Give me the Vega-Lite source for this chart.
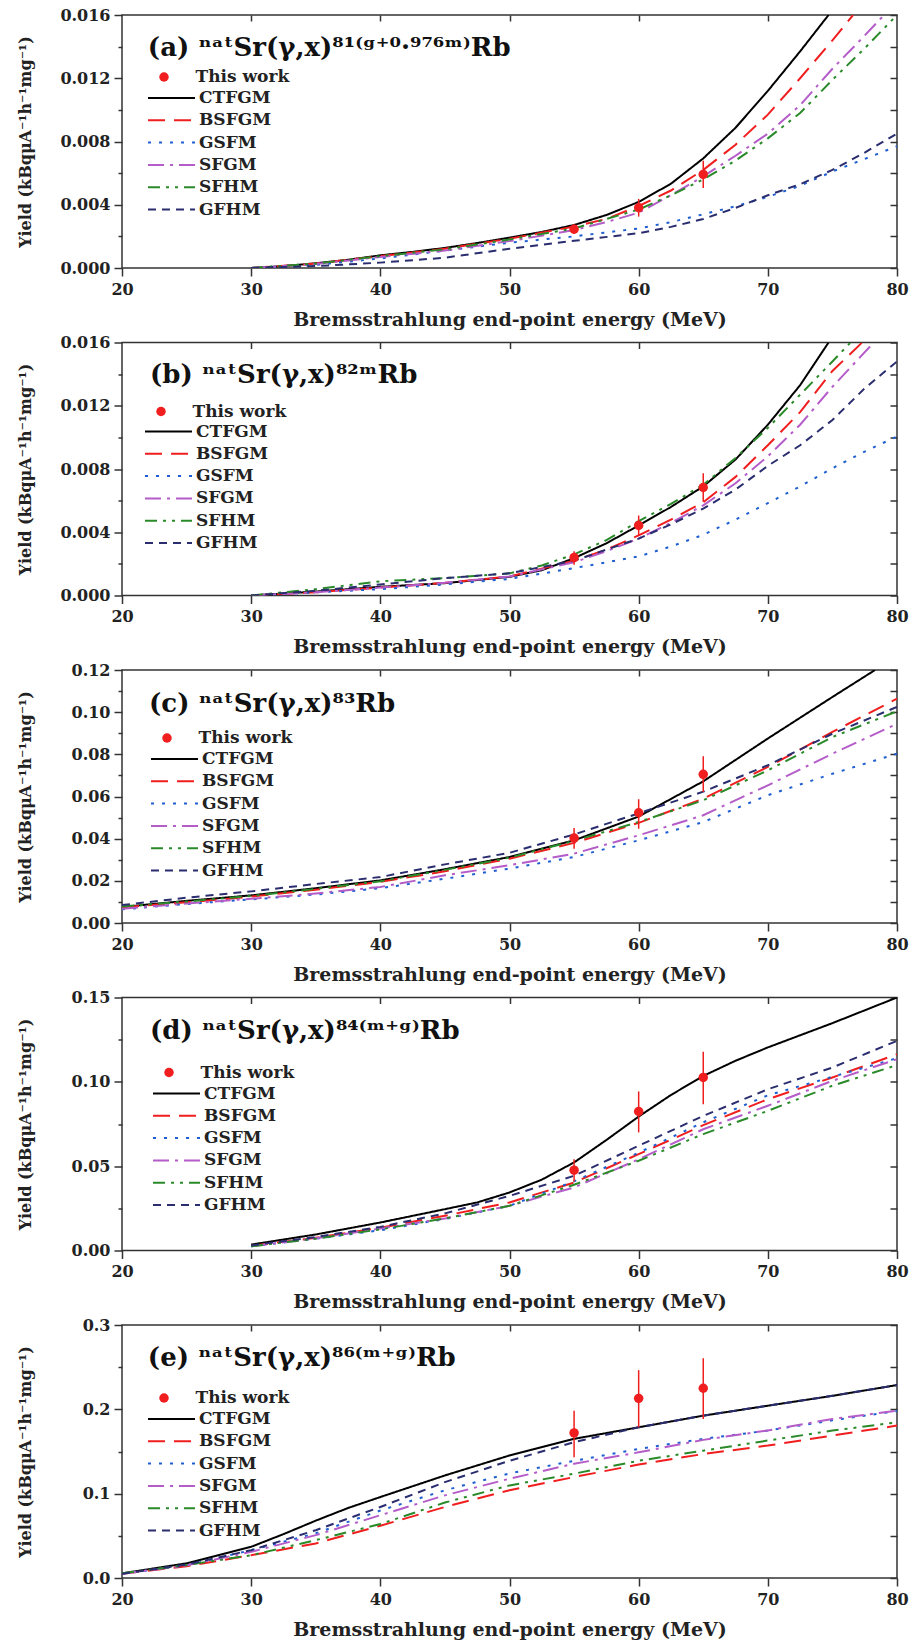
{
"$schema":"https://vega.github.io/schema/vega-lite/v6.json",
"background":"white",
"padding":{"left":16,"top":6,"right":3,"bottom":2},
"datasets":{
"curves":[
{"p":"a","m":"CTFGM","E":30,"Y":0},{"p":"a","m":"CTFGM","E":32.5,"Y":0.00012},{"p":"a","m":"CTFGM","E":35,"Y":0.0003},{"p":"a","m":"CTFGM","E":37.5,"Y":0.00052},{"p":"a","m":"CTFGM","E":40,"Y":0.0008},{"p":"a","m":"CTFGM","E":42.5,"Y":0.00102},{"p":"a","m":"CTFGM","E":45,"Y":0.00127},{"p":"a","m":"CTFGM","E":47.5,"Y":0.00158},{"p":"a","m":"CTFGM","E":50,"Y":0.00192},{"p":"a","m":"CTFGM","E":52.5,"Y":0.00228},{"p":"a","m":"CTFGM","E":55,"Y":0.00272},{"p":"a","m":"CTFGM","E":57.5,"Y":0.00335},{"p":"a","m":"CTFGM","E":60,"Y":0.00418},{"p":"a","m":"CTFGM","E":62.5,"Y":0.00533},{"p":"a","m":"CTFGM","E":65,"Y":0.00693},{"p":"a","m":"CTFGM","E":67.5,"Y":0.00887},{"p":"a","m":"CTFGM","E":70,"Y":0.0112},{"p":"a","m":"CTFGM","E":72.5,"Y":0.0137},{"p":"a","m":"CTFGM","E":74.7,"Y":0.016},
{"p":"a","m":"BSFGM","E":30,"Y":0},{"p":"a","m":"BSFGM","E":35,"Y":0.00028},{"p":"a","m":"BSFGM","E":40,"Y":0.00075},{"p":"a","m":"BSFGM","E":45,"Y":0.00122},{"p":"a","m":"BSFGM","E":50,"Y":0.00185},{"p":"a","m":"BSFGM","E":55,"Y":0.00262},{"p":"a","m":"BSFGM","E":57.5,"Y":0.0031},{"p":"a","m":"BSFGM","E":60,"Y":0.00392},{"p":"a","m":"BSFGM","E":62.5,"Y":0.0049},{"p":"a","m":"BSFGM","E":65,"Y":0.0062},{"p":"a","m":"BSFGM","E":67.5,"Y":0.0078},{"p":"a","m":"BSFGM","E":70,"Y":0.0097},{"p":"a","m":"BSFGM","E":72.5,"Y":0.012},{"p":"a","m":"BSFGM","E":75,"Y":0.0144},{"p":"a","m":"BSFGM","E":76.6,"Y":0.016},
{"p":"a","m":"GSFM","E":30,"Y":0},{"p":"a","m":"GSFM","E":35,"Y":0.0002},{"p":"a","m":"GSFM","E":40,"Y":0.0006},{"p":"a","m":"GSFM","E":45,"Y":0.0011},{"p":"a","m":"GSFM","E":50,"Y":0.0016},{"p":"a","m":"GSFM","E":55,"Y":0.002},{"p":"a","m":"GSFM","E":60,"Y":0.0025},{"p":"a","m":"GSFM","E":62.5,"Y":0.0029},{"p":"a","m":"GSFM","E":65,"Y":0.0034},{"p":"a","m":"GSFM","E":67.5,"Y":0.0039},{"p":"a","m":"GSFM","E":70,"Y":0.0045},{"p":"a","m":"GSFM","E":72.5,"Y":0.0052},{"p":"a","m":"GSFM","E":75,"Y":0.0061},{"p":"a","m":"GSFM","E":77.5,"Y":0.0069},{"p":"a","m":"GSFM","E":80,"Y":0.0077},
{"p":"a","m":"SFGM","E":30,"Y":0},{"p":"a","m":"SFGM","E":35,"Y":0.00025},{"p":"a","m":"SFGM","E":40,"Y":0.0007},{"p":"a","m":"SFGM","E":45,"Y":0.0011},{"p":"a","m":"SFGM","E":50,"Y":0.0017},{"p":"a","m":"SFGM","E":55,"Y":0.0024},{"p":"a","m":"SFGM","E":57.5,"Y":0.0029},{"p":"a","m":"SFGM","E":60,"Y":0.0035},{"p":"a","m":"SFGM","E":62.5,"Y":0.0046},{"p":"a","m":"SFGM","E":65,"Y":0.0058},{"p":"a","m":"SFGM","E":67.5,"Y":0.0071},{"p":"a","m":"SFGM","E":70,"Y":0.0085},{"p":"a","m":"SFGM","E":72.5,"Y":0.0103},{"p":"a","m":"SFGM","E":75,"Y":0.0126},{"p":"a","m":"SFGM","E":77.5,"Y":0.0147},{"p":"a","m":"SFGM","E":79,"Y":0.016},
{"p":"a","m":"SFHM","E":30,"Y":0},{"p":"a","m":"SFHM","E":35,"Y":0.00028},{"p":"a","m":"SFHM","E":40,"Y":0.00075},{"p":"a","m":"SFHM","E":45,"Y":0.00118},{"p":"a","m":"SFHM","E":50,"Y":0.0018},{"p":"a","m":"SFHM","E":55,"Y":0.0025},{"p":"a","m":"SFHM","E":57.5,"Y":0.0031},{"p":"a","m":"SFHM","E":60,"Y":0.0037},{"p":"a","m":"SFHM","E":62.5,"Y":0.0046},{"p":"a","m":"SFHM","E":65,"Y":0.0056},{"p":"a","m":"SFHM","E":67.5,"Y":0.0068},{"p":"a","m":"SFHM","E":70,"Y":0.0082},{"p":"a","m":"SFHM","E":72.5,"Y":0.0098},{"p":"a","m":"SFHM","E":75,"Y":0.0119},{"p":"a","m":"SFHM","E":77.5,"Y":0.0139},{"p":"a","m":"SFHM","E":80,"Y":0.016},
{"p":"a","m":"GFHM","E":30,"Y":0},{"p":"a","m":"GFHM","E":35,"Y":0.00012},{"p":"a","m":"GFHM","E":40,"Y":0.00034},{"p":"a","m":"GFHM","E":45,"Y":0.00065},{"p":"a","m":"GFHM","E":50,"Y":0.00122},{"p":"a","m":"GFHM","E":55,"Y":0.00172},{"p":"a","m":"GFHM","E":60,"Y":0.0022},{"p":"a","m":"GFHM","E":62.5,"Y":0.0026},{"p":"a","m":"GFHM","E":65,"Y":0.0031},{"p":"a","m":"GFHM","E":67.5,"Y":0.0038},{"p":"a","m":"GFHM","E":70,"Y":0.0046},{"p":"a","m":"GFHM","E":72.5,"Y":0.0053},{"p":"a","m":"GFHM","E":75,"Y":0.0062},{"p":"a","m":"GFHM","E":77.5,"Y":0.0073},{"p":"a","m":"GFHM","E":80,"Y":0.0085},

{"p":"b","m":"CTFGM","E":30,"Y":0},{"p":"b","m":"CTFGM","E":35,"Y":0.00025},{"p":"b","m":"CTFGM","E":40,"Y":0.00055},{"p":"b","m":"CTFGM","E":45,"Y":0.00078},{"p":"b","m":"CTFGM","E":50,"Y":0.00118},{"p":"b","m":"CTFGM","E":52.5,"Y":0.0016},{"p":"b","m":"CTFGM","E":55,"Y":0.00236},{"p":"b","m":"CTFGM","E":57.5,"Y":0.0033},{"p":"b","m":"CTFGM","E":60,"Y":0.00443},{"p":"b","m":"CTFGM","E":62.5,"Y":0.0056},{"p":"b","m":"CTFGM","E":65,"Y":0.0069},{"p":"b","m":"CTFGM","E":67.5,"Y":0.0086},{"p":"b","m":"CTFGM","E":70,"Y":0.0108},{"p":"b","m":"CTFGM","E":72.5,"Y":0.0133},{"p":"b","m":"CTFGM","E":74.7,"Y":0.016},
{"p":"b","m":"BSFGM","E":30,"Y":0},{"p":"b","m":"BSFGM","E":35,"Y":0.0002},{"p":"b","m":"BSFGM","E":40,"Y":0.0005},{"p":"b","m":"BSFGM","E":45,"Y":0.0008},{"p":"b","m":"BSFGM","E":50,"Y":0.0012},{"p":"b","m":"BSFGM","E":55,"Y":0.0022},{"p":"b","m":"BSFGM","E":57.5,"Y":0.0029},{"p":"b","m":"BSFGM","E":60,"Y":0.0038},{"p":"b","m":"BSFGM","E":62.5,"Y":0.0048},{"p":"b","m":"BSFGM","E":65,"Y":0.0059},{"p":"b","m":"BSFGM","E":67.5,"Y":0.0075},{"p":"b","m":"BSFGM","E":70,"Y":0.0095},{"p":"b","m":"BSFGM","E":72.5,"Y":0.0116},{"p":"b","m":"BSFGM","E":75,"Y":0.0142},{"p":"b","m":"BSFGM","E":77.3,"Y":0.016},
{"p":"b","m":"GSFM","E":30,"Y":0},{"p":"b","m":"GSFM","E":35,"Y":0.0002},{"p":"b","m":"GSFM","E":40,"Y":0.0004},{"p":"b","m":"GSFM","E":45,"Y":0.0007},{"p":"b","m":"GSFM","E":50,"Y":0.00105},{"p":"b","m":"GSFM","E":55,"Y":0.00173},{"p":"b","m":"GSFM","E":60,"Y":0.00247},{"p":"b","m":"GSFM","E":62.5,"Y":0.0031},{"p":"b","m":"GSFM","E":65,"Y":0.00384},{"p":"b","m":"GSFM","E":67.5,"Y":0.0048},{"p":"b","m":"GSFM","E":70,"Y":0.00584},{"p":"b","m":"GSFM","E":72.5,"Y":0.0069},{"p":"b","m":"GSFM","E":75,"Y":0.00805},{"p":"b","m":"GSFM","E":77.5,"Y":0.0091},{"p":"b","m":"GSFM","E":80,"Y":0.01006},
{"p":"b","m":"SFGM","E":30,"Y":0},{"p":"b","m":"SFGM","E":35,"Y":0.0002},{"p":"b","m":"SFGM","E":40,"Y":0.0005},{"p":"b","m":"SFGM","E":45,"Y":0.0008},{"p":"b","m":"SFGM","E":50,"Y":0.0012},{"p":"b","m":"SFGM","E":55,"Y":0.0021},{"p":"b","m":"SFGM","E":57.5,"Y":0.0028},{"p":"b","m":"SFGM","E":60,"Y":0.0036},{"p":"b","m":"SFGM","E":62.5,"Y":0.0046},{"p":"b","m":"SFGM","E":65,"Y":0.0057},{"p":"b","m":"SFGM","E":67.5,"Y":0.0071},{"p":"b","m":"SFGM","E":70,"Y":0.0088},{"p":"b","m":"SFGM","E":72.5,"Y":0.0108},{"p":"b","m":"SFGM","E":75,"Y":0.0132},{"p":"b","m":"SFGM","E":78.2,"Y":0.016},
{"p":"b","m":"SFHM","E":30,"Y":0},{"p":"b","m":"SFHM","E":35,"Y":0.0004},{"p":"b","m":"SFHM","E":40,"Y":0.0009},{"p":"b","m":"SFHM","E":45,"Y":0.0011},{"p":"b","m":"SFHM","E":50,"Y":0.0014},{"p":"b","m":"SFHM","E":52.5,"Y":0.0019},{"p":"b","m":"SFHM","E":55,"Y":0.0026},{"p":"b","m":"SFHM","E":57.5,"Y":0.0035},{"p":"b","m":"SFHM","E":60,"Y":0.0047},{"p":"b","m":"SFHM","E":62.5,"Y":0.0058},{"p":"b","m":"SFHM","E":65,"Y":0.007},{"p":"b","m":"SFHM","E":67.5,"Y":0.0087},{"p":"b","m":"SFHM","E":70,"Y":0.0106},{"p":"b","m":"SFHM","E":72.5,"Y":0.0127},{"p":"b","m":"SFHM","E":75,"Y":0.0148},{"p":"b","m":"SFHM","E":76.4,"Y":0.016},
{"p":"b","m":"GFHM","E":30,"Y":0},{"p":"b","m":"GFHM","E":35,"Y":0.0003},{"p":"b","m":"GFHM","E":40,"Y":0.0007},{"p":"b","m":"GFHM","E":45,"Y":0.0011},{"p":"b","m":"GFHM","E":50,"Y":0.0014},{"p":"b","m":"GFHM","E":55,"Y":0.0022},{"p":"b","m":"GFHM","E":57.5,"Y":0.0029},{"p":"b","m":"GFHM","E":60,"Y":0.0036},{"p":"b","m":"GFHM","E":62.5,"Y":0.0045},{"p":"b","m":"GFHM","E":65,"Y":0.0055},{"p":"b","m":"GFHM","E":67.5,"Y":0.0067},{"p":"b","m":"GFHM","E":70,"Y":0.0082},{"p":"b","m":"GFHM","E":72.5,"Y":0.0095},{"p":"b","m":"GFHM","E":75,"Y":0.0111},{"p":"b","m":"GFHM","E":77.5,"Y":0.0131},{"p":"b","m":"GFHM","E":80,"Y":0.0148},

{"p":"c","m":"CTFGM","E":20,"Y":0.0076},{"p":"c","m":"CTFGM","E":25,"Y":0.0105},{"p":"c","m":"CTFGM","E":30,"Y":0.0131},{"p":"c","m":"CTFGM","E":35,"Y":0.0165},{"p":"c","m":"CTFGM","E":40,"Y":0.0202},{"p":"c","m":"CTFGM","E":45,"Y":0.0255},{"p":"c","m":"CTFGM","E":50,"Y":0.0313},{"p":"c","m":"CTFGM","E":55,"Y":0.0392},{"p":"c","m":"CTFGM","E":60,"Y":0.0505},{"p":"c","m":"CTFGM","E":65,"Y":0.0672},{"p":"c","m":"CTFGM","E":70,"Y":0.0875},{"p":"c","m":"CTFGM","E":75,"Y":0.1072},{"p":"c","m":"CTFGM","E":78.3,"Y":0.12},
{"p":"c","m":"BSFGM","E":20,"Y":0.0075},{"p":"c","m":"BSFGM","E":25,"Y":0.0098},{"p":"c","m":"BSFGM","E":30,"Y":0.0125},{"p":"c","m":"BSFGM","E":35,"Y":0.0158},{"p":"c","m":"BSFGM","E":40,"Y":0.0195},{"p":"c","m":"BSFGM","E":45,"Y":0.0245},{"p":"c","m":"BSFGM","E":50,"Y":0.0305},{"p":"c","m":"BSFGM","E":55,"Y":0.038},{"p":"c","m":"BSFGM","E":60,"Y":0.0475},{"p":"c","m":"BSFGM","E":65,"Y":0.059},{"p":"c","m":"BSFGM","E":70,"Y":0.074},{"p":"c","m":"BSFGM","E":75,"Y":0.0906},{"p":"c","m":"BSFGM","E":80,"Y":0.1064},
{"p":"c","m":"GSFM","E":20,"Y":0.0065},{"p":"c","m":"GSFM","E":25,"Y":0.009},{"p":"c","m":"GSFM","E":30,"Y":0.0112},{"p":"c","m":"GSFM","E":35,"Y":0.0135},{"p":"c","m":"GSFM","E":40,"Y":0.0165},{"p":"c","m":"GSFM","E":45,"Y":0.021},{"p":"c","m":"GSFM","E":50,"Y":0.0258},{"p":"c","m":"GSFM","E":55,"Y":0.0313},{"p":"c","m":"GSFM","E":60,"Y":0.0392},{"p":"c","m":"GSFM","E":65,"Y":0.0479},{"p":"c","m":"GSFM","E":70,"Y":0.0606},{"p":"c","m":"GSFM","E":75,"Y":0.0708},{"p":"c","m":"GSFM","E":80,"Y":0.0803},
{"p":"c","m":"SFGM","E":20,"Y":0.0068},{"p":"c","m":"SFGM","E":25,"Y":0.0092},{"p":"c","m":"SFGM","E":30,"Y":0.0115},{"p":"c","m":"SFGM","E":35,"Y":0.014},{"p":"c","m":"SFGM","E":40,"Y":0.0171},{"p":"c","m":"SFGM","E":45,"Y":0.0226},{"p":"c","m":"SFGM","E":50,"Y":0.0274},{"p":"c","m":"SFGM","E":55,"Y":0.0329},{"p":"c","m":"SFGM","E":60,"Y":0.0416},{"p":"c","m":"SFGM","E":65,"Y":0.0511},{"p":"c","m":"SFGM","E":70,"Y":0.0653},{"p":"c","m":"SFGM","E":75,"Y":0.0803},{"p":"c","m":"SFGM","E":80,"Y":0.0945},
{"p":"c","m":"SFHM","E":20,"Y":0.0078},{"p":"c","m":"SFHM","E":25,"Y":0.0102},{"p":"c","m":"SFHM","E":30,"Y":0.0128},{"p":"c","m":"SFHM","E":35,"Y":0.0162},{"p":"c","m":"SFHM","E":40,"Y":0.0198},{"p":"c","m":"SFHM","E":45,"Y":0.0252},{"p":"c","m":"SFHM","E":50,"Y":0.031},{"p":"c","m":"SFHM","E":55,"Y":0.039},{"p":"c","m":"SFHM","E":60,"Y":0.0479},{"p":"c","m":"SFHM","E":65,"Y":0.0582},{"p":"c","m":"SFHM","E":70,"Y":0.0724},{"p":"c","m":"SFHM","E":75,"Y":0.0882},{"p":"c","m":"SFHM","E":80,"Y":0.1004},
{"p":"c","m":"GFHM","E":20,"Y":0.0085},{"p":"c","m":"GFHM","E":25,"Y":0.012},{"p":"c","m":"GFHM","E":30,"Y":0.015},{"p":"c","m":"GFHM","E":35,"Y":0.0185},{"p":"c","m":"GFHM","E":40,"Y":0.0218},{"p":"c","m":"GFHM","E":45,"Y":0.0278},{"p":"c","m":"GFHM","E":50,"Y":0.0333},{"p":"c","m":"GFHM","E":55,"Y":0.042},{"p":"c","m":"GFHM","E":60,"Y":0.052},{"p":"c","m":"GFHM","E":65,"Y":0.0623},{"p":"c","m":"GFHM","E":70,"Y":0.0748},{"p":"c","m":"GFHM","E":75,"Y":0.0898},{"p":"c","m":"GFHM","E":80,"Y":0.1025},

{"p":"d","m":"CTFGM","E":30,"Y":0.0035},{"p":"d","m":"CTFGM","E":35,"Y":0.0095},{"p":"d","m":"CTFGM","E":40,"Y":0.0166},{"p":"d","m":"CTFGM","E":45,"Y":0.0245},{"p":"d","m":"CTFGM","E":47.5,"Y":0.0285},{"p":"d","m":"CTFGM","E":50,"Y":0.0344},{"p":"d","m":"CTFGM","E":52.5,"Y":0.042},{"p":"d","m":"CTFGM","E":55,"Y":0.0522},{"p":"d","m":"CTFGM","E":57.5,"Y":0.0655},{"p":"d","m":"CTFGM","E":60,"Y":0.0794},{"p":"d","m":"CTFGM","E":62.5,"Y":0.0922},{"p":"d","m":"CTFGM","E":65,"Y":0.1035},{"p":"d","m":"CTFGM","E":67.5,"Y":0.1125},{"p":"d","m":"CTFGM","E":70,"Y":0.1204},{"p":"d","m":"CTFGM","E":75,"Y":0.1348},{"p":"d","m":"CTFGM","E":80,"Y":0.15},
{"p":"d","m":"BSFGM","E":30,"Y":0.0028},{"p":"d","m":"BSFGM","E":35,"Y":0.0075},{"p":"d","m":"BSFGM","E":40,"Y":0.0135},{"p":"d","m":"BSFGM","E":45,"Y":0.0206},{"p":"d","m":"BSFGM","E":50,"Y":0.0285},{"p":"d","m":"BSFGM","E":55,"Y":0.0403},{"p":"d","m":"BSFGM","E":60,"Y":0.0571},{"p":"d","m":"BSFGM","E":65,"Y":0.0743},{"p":"d","m":"BSFGM","E":70,"Y":0.0897},{"p":"d","m":"BSFGM","E":75,"Y":0.1026},{"p":"d","m":"BSFGM","E":80,"Y":0.1164},
{"p":"d","m":"GSFM","E":30,"Y":0.0025},{"p":"d","m":"GSFM","E":35,"Y":0.007},{"p":"d","m":"GSFM","E":40,"Y":0.012},{"p":"d","m":"GSFM","E":45,"Y":0.0187},{"p":"d","m":"GSFM","E":50,"Y":0.0265},{"p":"d","m":"GSFM","E":55,"Y":0.041},{"p":"d","m":"GSFM","E":60,"Y":0.058},{"p":"d","m":"GSFM","E":65,"Y":0.076},{"p":"d","m":"GSFM","E":70,"Y":0.092},{"p":"d","m":"GSFM","E":75,"Y":0.103},{"p":"d","m":"GSFM","E":80,"Y":0.114},
{"p":"d","m":"SFGM","E":30,"Y":0.0025},{"p":"d","m":"SFGM","E":35,"Y":0.0072},{"p":"d","m":"SFGM","E":40,"Y":0.013},{"p":"d","m":"SFGM","E":45,"Y":0.019},{"p":"d","m":"SFGM","E":50,"Y":0.0265},{"p":"d","m":"SFGM","E":55,"Y":0.0374},{"p":"d","m":"SFGM","E":60,"Y":0.0541},{"p":"d","m":"SFGM","E":65,"Y":0.0719},{"p":"d","m":"SFGM","E":70,"Y":0.0858},{"p":"d","m":"SFGM","E":75,"Y":0.1006},{"p":"d","m":"SFGM","E":80,"Y":0.1134},
{"p":"d","m":"SFHM","E":30,"Y":0.0025},{"p":"d","m":"SFHM","E":35,"Y":0.007},{"p":"d","m":"SFHM","E":40,"Y":0.0125},{"p":"d","m":"SFHM","E":45,"Y":0.019},{"p":"d","m":"SFHM","E":50,"Y":0.0265},{"p":"d","m":"SFHM","E":55,"Y":0.039},{"p":"d","m":"SFHM","E":60,"Y":0.0532},{"p":"d","m":"SFHM","E":65,"Y":0.069},{"p":"d","m":"SFHM","E":70,"Y":0.0828},{"p":"d","m":"SFHM","E":75,"Y":0.0977},{"p":"d","m":"SFHM","E":80,"Y":0.1099},
{"p":"d","m":"GFHM","E":30,"Y":0.003},{"p":"d","m":"GFHM","E":35,"Y":0.008},{"p":"d","m":"GFHM","E":40,"Y":0.014},{"p":"d","m":"GFHM","E":45,"Y":0.022},{"p":"d","m":"GFHM","E":50,"Y":0.0324},{"p":"d","m":"GFHM","E":55,"Y":0.0443},{"p":"d","m":"GFHM","E":60,"Y":0.0621},{"p":"d","m":"GFHM","E":65,"Y":0.0798},{"p":"d","m":"GFHM","E":70,"Y":0.0956},{"p":"d","m":"GFHM","E":75,"Y":0.1085},{"p":"d","m":"GFHM","E":80,"Y":0.1243},

{"p":"e","m":"CTFGM","E":20,"Y":0.0055},{"p":"e","m":"CTFGM","E":25,"Y":0.0174},{"p":"e","m":"CTFGM","E":30,"Y":0.037},{"p":"e","m":"CTFGM","E":32.5,"Y":0.052},{"p":"e","m":"CTFGM","E":35,"Y":0.068},{"p":"e","m":"CTFGM","E":37.5,"Y":0.083},{"p":"e","m":"CTFGM","E":40,"Y":0.096},{"p":"e","m":"CTFGM","E":45,"Y":0.1216},{"p":"e","m":"CTFGM","E":50,"Y":0.1453},{"p":"e","m":"CTFGM","E":55,"Y":0.165},{"p":"e","m":"CTFGM","E":60,"Y":0.1787},{"p":"e","m":"CTFGM","E":65,"Y":0.1925},{"p":"e","m":"CTFGM","E":70,"Y":0.2043},{"p":"e","m":"CTFGM","E":75,"Y":0.216},{"p":"e","m":"CTFGM","E":80,"Y":0.2288},
{"p":"e","m":"BSFGM","E":20,"Y":0.005},{"p":"e","m":"BSFGM","E":25,"Y":0.014},{"p":"e","m":"BSFGM","E":30,"Y":0.027},{"p":"e","m":"BSFGM","E":35,"Y":0.041},{"p":"e","m":"BSFGM","E":40,"Y":0.062},{"p":"e","m":"BSFGM","E":45,"Y":0.0842},{"p":"e","m":"BSFGM","E":50,"Y":0.104},{"p":"e","m":"BSFGM","E":55,"Y":0.1197},{"p":"e","m":"BSFGM","E":60,"Y":0.1346},{"p":"e","m":"BSFGM","E":65,"Y":0.147},{"p":"e","m":"BSFGM","E":70,"Y":0.157},{"p":"e","m":"BSFGM","E":75,"Y":0.1689},{"p":"e","m":"BSFGM","E":80,"Y":0.1807},
{"p":"e","m":"GSFM","E":20,"Y":0.005},{"p":"e","m":"GSFM","E":25,"Y":0.015},{"p":"e","m":"GSFM","E":30,"Y":0.033},{"p":"e","m":"GSFM","E":35,"Y":0.053},{"p":"e","m":"GSFM","E":40,"Y":0.08},{"p":"e","m":"GSFM","E":45,"Y":0.104},{"p":"e","m":"GSFM","E":50,"Y":0.124},{"p":"e","m":"GSFM","E":55,"Y":0.139},{"p":"e","m":"GSFM","E":60,"Y":0.153},{"p":"e","m":"GSFM","E":65,"Y":0.165},{"p":"e","m":"GSFM","E":70,"Y":0.1748},{"p":"e","m":"GSFM","E":75,"Y":0.187},{"p":"e","m":"GSFM","E":80,"Y":0.198},
{"p":"e","m":"SFGM","E":20,"Y":0.005},{"p":"e","m":"SFGM","E":25,"Y":0.015},{"p":"e","m":"SFGM","E":30,"Y":0.031},{"p":"e","m":"SFGM","E":35,"Y":0.0508},{"p":"e","m":"SFGM","E":40,"Y":0.0744},{"p":"e","m":"SFGM","E":45,"Y":0.098},{"p":"e","m":"SFGM","E":50,"Y":0.1177},{"p":"e","m":"SFGM","E":55,"Y":0.1355},{"p":"e","m":"SFGM","E":60,"Y":0.149},{"p":"e","m":"SFGM","E":65,"Y":0.1638},{"p":"e","m":"SFGM","E":70,"Y":0.175},{"p":"e","m":"SFGM","E":75,"Y":0.1886},{"p":"e","m":"SFGM","E":80,"Y":0.1984},
{"p":"e","m":"SFHM","E":20,"Y":0.0055},{"p":"e","m":"SFHM","E":25,"Y":0.0155},{"p":"e","m":"SFHM","E":30,"Y":0.027},{"p":"e","m":"SFHM","E":35,"Y":0.0449},{"p":"e","m":"SFHM","E":40,"Y":0.064},{"p":"e","m":"SFHM","E":45,"Y":0.0895},{"p":"e","m":"SFHM","E":50,"Y":0.1098},{"p":"e","m":"SFHM","E":55,"Y":0.1237},{"p":"e","m":"SFHM","E":60,"Y":0.139},{"p":"e","m":"SFHM","E":65,"Y":0.151},{"p":"e","m":"SFHM","E":70,"Y":0.163},{"p":"e","m":"SFHM","E":75,"Y":0.1748},{"p":"e","m":"SFHM","E":80,"Y":0.1846},
{"p":"e","m":"GFHM","E":20,"Y":0.005},{"p":"e","m":"GFHM","E":25,"Y":0.016},{"p":"e","m":"GFHM","E":30,"Y":0.033},{"p":"e","m":"GFHM","E":35,"Y":0.0567},{"p":"e","m":"GFHM","E":40,"Y":0.0842},{"p":"e","m":"GFHM","E":45,"Y":0.1137},{"p":"e","m":"GFHM","E":50,"Y":0.139},{"p":"e","m":"GFHM","E":55,"Y":0.161},{"p":"e","m":"GFHM","E":60,"Y":0.1787},{"p":"e","m":"GFHM","E":65,"Y":0.1925},{"p":"e","m":"GFHM","E":70,"Y":0.2043},{"p":"e","m":"GFHM","E":75,"Y":0.216},{"p":"e","m":"GFHM","E":80,"Y":0.2288}
],
"exp":[
{"p":"a","src":"This work","E":55,"Y":0.00245,"lo":0.00215,"hi":0.00275},{"p":"a","src":"This work","E":60,"Y":0.00381,"lo":0.00325,"hi":0.00437},{"p":"a","src":"This work","E":65,"Y":0.00592,"lo":0.00506,"hi":0.00678},
{"p":"b","src":"This work","E":55,"Y":0.0024,"lo":0.00195,"hi":0.0028},{"p":"b","src":"This work","E":60,"Y":0.00443,"lo":0.0038,"hi":0.00506},{"p":"b","src":"This work","E":65,"Y":0.00683,"lo":0.00593,"hi":0.00773},
{"p":"c","src":"This work","E":55,"Y":0.0403,"lo":0.0352,"hi":0.0451},{"p":"c","src":"This work","E":60,"Y":0.0523,"lo":0.0447,"hi":0.0587},{"p":"c","src":"This work","E":65,"Y":0.0705,"lo":0.0621,"hi":0.0791},
{"p":"d","src":"This work","E":55,"Y":0.0476,"lo":0.0407,"hi":0.0541},{"p":"d","src":"This work","E":60,"Y":0.0824,"lo":0.07,"hi":0.0943},{"p":"d","src":"This work","E":65,"Y":0.1026,"lo":0.0867,"hi":0.1178},
{"p":"e","src":"This work","E":55,"Y":0.172,"lo":0.1433,"hi":0.1984},{"p":"e","src":"This work","E":60,"Y":0.213,"lo":0.1787,"hi":0.2465},{"p":"e","src":"This work","E":65,"Y":0.225,"lo":0.1886,"hi":0.2607}
],
"titles":[
{"p":"a","t":"(a) ⁿᵃᵗSr(γ,x)⁸¹⁽ᵍ⁺⁰·⁹⁷⁶ᵐ⁾Rb"},
{"p":"b","t":"(b) ⁿᵃᵗSr(γ,x)⁸²ᵐRb"},
{"p":"c","t":"(c) ⁿᵃᵗSr(γ,x)⁸³Rb"},
{"p":"d","t":"(d) ⁿᵃᵗSr(γ,x)⁸⁴⁽ᵐ⁺ᵍ⁾Rb"},
{"p":"e","t":"(e) ⁿᵃᵗSr(γ,x)⁸⁶⁽ᵐ⁺ᵍ⁾Rb"}
]
},
"vconcat":[
{"width":775,"height":253,
"layer":[
{"data":{"name":"curves"},"transform":[{"filter":"datum.p==='a'"}],
"mark":{"type":"line","strokeWidth":2,"clip":true},
"encoding":{
"x":{"field":"E","type":"quantitative","scale":{"domain":[20,80],"nice":false,"zero":false},"axis":{"values":[20,30,40,50,60,70,80],"format":"d","tickSize":8,"labelPadding":5,"title":"Bremsstrahlung end-point energy (MeV)","titlePadding":13}},
"y":{"field":"Y","type":"quantitative","scale":{"domain":[0,0.016],"nice":false},"axis":{"values":[0,0.002,0.004,0.006,0.008,0.01,0.012,0.014,0.016],"labelExpr":"abs(datum.value/0.004-round(datum.value/0.004))<0.01 ? format(datum.value,'.3f') : ''","tickSize":{"condition":{"test":"abs(datum.value/0.004-round(datum.value/0.004))<0.01","value":8},"value":4},"labelPadding":4,"title":"Yield (kBqμA⁻¹h⁻¹mg⁻¹)","titlePadding":26,"minExtent":63,"maxExtent":63}},
"color":{"field":"m","type":"nominal","scale":{"domain":["CTFGM","BSFGM","GSFM","SFGM","SFHM","GFHM"],"range":["#000000","#f01e1e","#1f5fd0","#b45cc8","#2a8a2a","#2a2d6e"]},"legend":{"orient":"none","legendX":25,"legendY":75,"title":null,"symbolType":"stroke","symbolSize":2209,"symbolStrokeWidth":2,"clipHeight":16,"labelFont":"DejaVu Serif","labelFontWeight":"bold","labelFontSize":17,"labelColor":"#222","labelOffset":3,"rowPadding":5.3,"padding":0,"symbolOffset":0}},
"strokeDash":{"field":"m","type":"nominal","scale":{"domain":["CTFGM","BSFGM","GSFM","SFGM","SFHM","GFHM"],"range":[[1,0],[17,9],[3,8],[16,6,3,6],[12,6,3,6,3,6],[8,6]]},"legend":{"orient":"none","legendX":25,"legendY":75,"title":null,"symbolType":"stroke","symbolSize":2209,"symbolStrokeWidth":2,"clipHeight":16,"labelFont":"DejaVu Serif","labelFontWeight":"bold","labelFontSize":17,"labelColor":"#222","labelOffset":3,"rowPadding":5.3,"padding":0,"symbolOffset":0}}
}},
{"data":{"name":"exp"},"transform":[{"filter":"datum.p==='a'"}],
"mark":{"type":"rule","color":"#f01e1e","strokeWidth":1.5},
"encoding":{"x":{"field":"E","type":"quantitative","axis":{"orient":"top","values":[30,40,50,60,70],"labels":false,"tickSize":-6,"title":null}},
"y":{"field":"lo","type":"quantitative","axis":{"orient":"right","values":[0,0.002,0.004,0.006,0.008,0.01,0.012,0.014,0.016],"labels":false,"tickSize":-7,"title":null}},
"y2":{"field":"hi"}}},
{"data":{"name":"exp"},"transform":[{"filter":"datum.p==='a'"}],
"mark":{"type":"point","filled":true,"size":90,"color":"#f01e1e","opacity":1},
"encoding":{"x":{"field":"E","type":"quantitative","axis":null},"y":{"field":"Y","type":"quantitative","axis":null},
"shape":{"field":"src","type":"nominal","scale":{"domain":["This work"],"range":["circle"]},"legend":{"orient":"none","legendX":25,"legendY":54,"title":null,"symbolSize":90,"symbolStrokeWidth":0,"symbolFillColor":"#f01e1e","clipHeight":16,"labelFont":"DejaVu Serif","labelFontWeight":"bold","labelFontSize":17,"labelColor":"#222","labelOffset":23,"padding":0,"symbolOffset":8.5}}}},
{"data":{"name":"titles"},"transform":[{"filter":"datum.p==='a'"}],
"mark":{"type":"text","align":"left","baseline":"alphabetic","font":"DejaVu Serif","fontWeight":"bold","fontSize":26,"color":"#111"},
"encoding":{"x":{"datum":22.0,"type":"quantitative","axis":null},"y":{"datum":0.01341,"type":"quantitative","axis":null},"text":{"field":"t"}}}
],
"resolve":{"axis":{"x":"independent","y":"independent"}}},

{"width":775,"height":253,
"layer":[
{"data":{"name":"curves"},"transform":[{"filter":"datum.p==='b'"}],
"mark":{"type":"line","strokeWidth":2,"clip":true},
"encoding":{
"x":{"field":"E","type":"quantitative","scale":{"domain":[20,80],"nice":false,"zero":false},"axis":{"values":[20,30,40,50,60,70,80],"format":"d","tickSize":8,"labelPadding":5,"title":"Bremsstrahlung end-point energy (MeV)","titlePadding":13}},
"y":{"field":"Y","type":"quantitative","scale":{"domain":[0,0.016],"nice":false},"axis":{"values":[0,0.002,0.004,0.006,0.008,0.01,0.012,0.014,0.016],"labelExpr":"abs(datum.value/0.004-round(datum.value/0.004))<0.01 ? format(datum.value,'.3f') : ''","tickSize":{"condition":{"test":"abs(datum.value/0.004-round(datum.value/0.004))<0.01","value":8},"value":4},"labelPadding":4,"title":"Yield (kBqμA⁻¹h⁻¹mg⁻¹)","titlePadding":26,"minExtent":63,"maxExtent":63}},
"color":{"field":"m","type":"nominal","scale":{"domain":["CTFGM","BSFGM","GSFM","SFGM","SFHM","GFHM"],"range":["#000000","#f01e1e","#1f5fd0","#b45cc8","#2a8a2a","#2a2d6e"]},"legend":{"orient":"none","legendX":22,"legendY":81,"title":null,"symbolType":"stroke","symbolSize":2209,"symbolStrokeWidth":2,"clipHeight":16,"labelFont":"DejaVu Serif","labelFontWeight":"bold","labelFontSize":17,"labelColor":"#222","labelOffset":3,"rowPadding":5.3,"padding":0,"symbolOffset":0}},
"strokeDash":{"field":"m","type":"nominal","scale":{"domain":["CTFGM","BSFGM","GSFM","SFGM","SFHM","GFHM"],"range":[[1,0],[17,9],[3,8],[16,6,3,6],[12,6,3,6,3,6],[8,6]]},"legend":{"orient":"none","legendX":22,"legendY":81,"title":null,"symbolType":"stroke","symbolSize":2209,"symbolStrokeWidth":2,"clipHeight":16,"labelFont":"DejaVu Serif","labelFontWeight":"bold","labelFontSize":17,"labelColor":"#222","labelOffset":3,"rowPadding":5.3,"padding":0,"symbolOffset":0}}
}},
{"data":{"name":"exp"},"transform":[{"filter":"datum.p==='b'"}],
"mark":{"type":"rule","color":"#f01e1e","strokeWidth":1.5},
"encoding":{"x":{"field":"E","type":"quantitative","axis":{"orient":"top","values":[30,40,50,60,70],"labels":false,"tickSize":-6,"title":null}},
"y":{"field":"lo","type":"quantitative","axis":{"orient":"right","values":[0,0.002,0.004,0.006,0.008,0.01,0.012,0.014,0.016],"labels":false,"tickSize":-7,"title":null}},
"y2":{"field":"hi"}}},
{"data":{"name":"exp"},"transform":[{"filter":"datum.p==='b'"}],
"mark":{"type":"point","filled":true,"size":90,"color":"#f01e1e","opacity":1},
"encoding":{"x":{"field":"E","type":"quantitative","axis":null},"y":{"field":"Y","type":"quantitative","axis":null},
"shape":{"field":"src","type":"nominal","scale":{"domain":["This work"],"range":["circle"]},"legend":{"orient":"none","legendX":22,"legendY":61,"title":null,"symbolSize":90,"symbolStrokeWidth":0,"symbolFillColor":"#f01e1e","clipHeight":16,"labelFont":"DejaVu Serif","labelFontWeight":"bold","labelFontSize":17,"labelColor":"#222","labelOffset":23,"padding":0,"symbolOffset":8.5}}}},
{"data":{"name":"titles"},"transform":[{"filter":"datum.p==='b'"}],
"mark":{"type":"text","align":"left","baseline":"alphabetic","font":"DejaVu Serif","fontWeight":"bold","fontSize":26,"color":"#111"},
"encoding":{"x":{"datum":22.17,"type":"quantitative","axis":null},"y":{"datum":0.01343,"type":"quantitative","axis":null},"text":{"field":"t"}}}
],
"resolve":{"axis":{"x":"independent","y":"independent"}}},

{"width":775,"height":253,
"layer":[
{"data":{"name":"curves"},"transform":[{"filter":"datum.p==='c'"}],
"mark":{"type":"line","strokeWidth":2,"clip":true},
"encoding":{
"x":{"field":"E","type":"quantitative","scale":{"domain":[20,80],"nice":false,"zero":false},"axis":{"values":[20,30,40,50,60,70,80],"format":"d","tickSize":8,"labelPadding":5,"title":"Bremsstrahlung end-point energy (MeV)","titlePadding":13}},
"y":{"field":"Y","type":"quantitative","scale":{"domain":[0,0.12],"nice":false},"axis":{"values":[0,0.01,0.02,0.03,0.04,0.05,0.06,0.07,0.08,0.09,0.1,0.11,0.12],"labelExpr":"abs(datum.value/0.02-round(datum.value/0.02))<0.01 ? format(datum.value,'.2f') : ''","tickSize":{"condition":{"test":"abs(datum.value/0.02-round(datum.value/0.02))<0.01","value":8},"value":4},"labelPadding":4,"title":"Yield (kBqμA⁻¹h⁻¹mg⁻¹)","titlePadding":26,"minExtent":63,"maxExtent":63}},
"color":{"field":"m","type":"nominal","scale":{"domain":["CTFGM","BSFGM","GSFM","SFGM","SFHM","GFHM"],"range":["#000000","#f01e1e","#1f5fd0","#b45cc8","#2a8a2a","#2a2d6e"]},"legend":{"orient":"none","legendX":28,"legendY":81,"title":null,"symbolType":"stroke","symbolSize":2209,"symbolStrokeWidth":2,"clipHeight":16,"labelFont":"DejaVu Serif","labelFontWeight":"bold","labelFontSize":17,"labelColor":"#222","labelOffset":3,"rowPadding":5.3,"padding":0,"symbolOffset":0}},
"strokeDash":{"field":"m","type":"nominal","scale":{"domain":["CTFGM","BSFGM","GSFM","SFGM","SFHM","GFHM"],"range":[[1,0],[17,9],[3,8],[16,6,3,6],[12,6,3,6,3,6],[8,6]]},"legend":{"orient":"none","legendX":28,"legendY":81,"title":null,"symbolType":"stroke","symbolSize":2209,"symbolStrokeWidth":2,"clipHeight":16,"labelFont":"DejaVu Serif","labelFontWeight":"bold","labelFontSize":17,"labelColor":"#222","labelOffset":3,"rowPadding":5.3,"padding":0,"symbolOffset":0}}
}},
{"data":{"name":"exp"},"transform":[{"filter":"datum.p==='c'"}],
"mark":{"type":"rule","color":"#f01e1e","strokeWidth":1.5},
"encoding":{"x":{"field":"E","type":"quantitative","axis":{"orient":"top","values":[30,40,50,60,70],"labels":false,"tickSize":-6,"title":null}},
"y":{"field":"lo","type":"quantitative","axis":{"orient":"right","values":[0,0.01,0.02,0.03,0.04,0.05,0.06,0.07,0.08,0.09,0.1,0.11,0.12],"labels":false,"tickSize":-7,"title":null}},
"y2":{"field":"hi"}}},
{"data":{"name":"exp"},"transform":[{"filter":"datum.p==='c'"}],
"mark":{"type":"point","filled":true,"size":90,"color":"#f01e1e","opacity":1},
"encoding":{"x":{"field":"E","type":"quantitative","axis":null},"y":{"field":"Y","type":"quantitative","axis":null},
"shape":{"field":"src","type":"nominal","scale":{"domain":["This work"],"range":["circle"]},"legend":{"orient":"none","legendX":28,"legendY":60,"title":null,"symbolSize":90,"symbolStrokeWidth":0,"symbolFillColor":"#f01e1e","clipHeight":16,"labelFont":"DejaVu Serif","labelFontWeight":"bold","labelFontSize":17,"labelColor":"#222","labelOffset":23,"padding":0,"symbolOffset":8.5}}}},
{"data":{"name":"titles"},"transform":[{"filter":"datum.p==='c'"}],
"mark":{"type":"text","align":"left","baseline":"alphabetic","font":"DejaVu Serif","fontWeight":"bold","fontSize":26,"color":"#111"},
"encoding":{"x":{"datum":22.09,"type":"quantitative","axis":null},"y":{"datum":0.1001,"type":"quantitative","axis":null},"text":{"field":"t"}}}
],
"resolve":{"axis":{"x":"independent","y":"independent"}}},

{"width":775,"height":253,
"layer":[
{"data":{"name":"curves"},"transform":[{"filter":"datum.p==='d'"}],
"mark":{"type":"line","strokeWidth":2,"clip":true},
"encoding":{
"x":{"field":"E","type":"quantitative","scale":{"domain":[20,80],"nice":false,"zero":false},"axis":{"values":[20,30,40,50,60,70,80],"format":"d","tickSize":8,"labelPadding":5,"title":"Bremsstrahlung end-point energy (MeV)","titlePadding":13}},
"y":{"field":"Y","type":"quantitative","scale":{"domain":[0,0.15],"nice":false},"axis":{"values":[0,0.025,0.05,0.075,0.1,0.125,0.15],"labelExpr":"abs(datum.value/0.05-round(datum.value/0.05))<0.01 ? format(datum.value,'.2f') : ''","tickSize":{"condition":{"test":"abs(datum.value/0.05-round(datum.value/0.05))<0.01","value":8},"value":4},"labelPadding":4,"title":"Yield (kBqμA⁻¹h⁻¹mg⁻¹)","titlePadding":26,"minExtent":63,"maxExtent":63}},
"color":{"field":"m","type":"nominal","scale":{"domain":["CTFGM","BSFGM","GSFM","SFGM","SFHM","GFHM"],"range":["#000000","#f01e1e","#1f5fd0","#b45cc8","#2a8a2a","#2a2d6e"]},"legend":{"orient":"none","legendX":30,"legendY":88,"title":null,"symbolType":"stroke","symbolSize":2209,"symbolStrokeWidth":2,"clipHeight":16,"labelFont":"DejaVu Serif","labelFontWeight":"bold","labelFontSize":17,"labelColor":"#222","labelOffset":3,"rowPadding":5.3,"padding":0,"symbolOffset":0}},
"strokeDash":{"field":"m","type":"nominal","scale":{"domain":["CTFGM","BSFGM","GSFM","SFGM","SFHM","GFHM"],"range":[[1,0],[17,9],[3,8],[16,6,3,6],[12,6,3,6,3,6],[8,6]]},"legend":{"orient":"none","legendX":30,"legendY":88,"title":null,"symbolType":"stroke","symbolSize":2209,"symbolStrokeWidth":2,"clipHeight":16,"labelFont":"DejaVu Serif","labelFontWeight":"bold","labelFontSize":17,"labelColor":"#222","labelOffset":3,"rowPadding":5.3,"padding":0,"symbolOffset":0}}
}},
{"data":{"name":"exp"},"transform":[{"filter":"datum.p==='d'"}],
"mark":{"type":"rule","color":"#f01e1e","strokeWidth":1.5},
"encoding":{"x":{"field":"E","type":"quantitative","axis":{"orient":"top","values":[30,40,50,60,70],"labels":false,"tickSize":-6,"title":null}},
"y":{"field":"lo","type":"quantitative","axis":{"orient":"right","values":[0,0.025,0.05,0.075,0.1,0.125,0.15],"labels":false,"tickSize":-7,"title":null}},
"y2":{"field":"hi"}}},
{"data":{"name":"exp"},"transform":[{"filter":"datum.p==='d'"}],
"mark":{"type":"point","filled":true,"size":90,"color":"#f01e1e","opacity":1},
"encoding":{"x":{"field":"E","type":"quantitative","axis":null},"y":{"field":"Y","type":"quantitative","axis":null},
"shape":{"field":"src","type":"nominal","scale":{"domain":["This work"],"range":["circle"]},"legend":{"orient":"none","legendX":30,"legendY":67,"title":null,"symbolSize":90,"symbolStrokeWidth":0,"symbolFillColor":"#f01e1e","clipHeight":16,"labelFont":"DejaVu Serif","labelFontWeight":"bold","labelFontSize":17,"labelColor":"#222","labelOffset":23,"padding":0,"symbolOffset":8.5}}}},
{"data":{"name":"titles"},"transform":[{"filter":"datum.p==='d'"}],
"mark":{"type":"text","align":"left","baseline":"alphabetic","font":"DejaVu Serif","fontWeight":"bold","fontSize":26,"color":"#111"},
"encoding":{"x":{"datum":22.17,"type":"quantitative","axis":null},"y":{"datum":0.1253,"type":"quantitative","axis":null},"text":{"field":"t"}}}
],
"resolve":{"axis":{"x":"independent","y":"independent"}}},

{"width":775,"height":253,
"layer":[
{"data":{"name":"curves"},"transform":[{"filter":"datum.p==='e'"}],
"mark":{"type":"line","strokeWidth":2,"clip":true},
"encoding":{
"x":{"field":"E","type":"quantitative","scale":{"domain":[20,80],"nice":false,"zero":false},"axis":{"values":[20,30,40,50,60,70,80],"format":"d","tickSize":8,"labelPadding":5,"title":"Bremsstrahlung end-point energy (MeV)","titlePadding":13}},
"y":{"field":"Y","type":"quantitative","scale":{"domain":[0,0.3],"nice":false},"axis":{"values":[0,0.05,0.1,0.15,0.2,0.25,0.3],"labelExpr":"abs(datum.value/0.1-round(datum.value/0.1))<0.01 ? format(datum.value,'.1f') : ''","tickSize":{"condition":{"test":"abs(datum.value/0.1-round(datum.value/0.1))<0.01","value":8},"value":4},"labelPadding":4,"title":"Yield (kBqμA⁻¹h⁻¹mg⁻¹)","titlePadding":26,"minExtent":63,"maxExtent":63}},
"color":{"field":"m","type":"nominal","scale":{"domain":["CTFGM","BSFGM","GSFM","SFGM","SFHM","GFHM"],"range":["#000000","#f01e1e","#1f5fd0","#b45cc8","#2a8a2a","#2a2d6e"]},"legend":{"orient":"none","legendX":25,"legendY":86,"title":null,"symbolType":"stroke","symbolSize":2209,"symbolStrokeWidth":2,"clipHeight":16,"labelFont":"DejaVu Serif","labelFontWeight":"bold","labelFontSize":17,"labelColor":"#222","labelOffset":3,"rowPadding":5.3,"padding":0,"symbolOffset":0}},
"strokeDash":{"field":"m","type":"nominal","scale":{"domain":["CTFGM","BSFGM","GSFM","SFGM","SFHM","GFHM"],"range":[[1,0],[17,9],[3,8],[16,6,3,6],[12,6,3,6,3,6],[8,6]]},"legend":{"orient":"none","legendX":25,"legendY":86,"title":null,"symbolType":"stroke","symbolSize":2209,"symbolStrokeWidth":2,"clipHeight":16,"labelFont":"DejaVu Serif","labelFontWeight":"bold","labelFontSize":17,"labelColor":"#222","labelOffset":3,"rowPadding":5.3,"padding":0,"symbolOffset":0}}
}},
{"data":{"name":"exp"},"transform":[{"filter":"datum.p==='e'"}],
"mark":{"type":"rule","color":"#f01e1e","strokeWidth":1.5},
"encoding":{"x":{"field":"E","type":"quantitative","axis":{"orient":"top","values":[30,40,50,60,70],"labels":false,"tickSize":-6,"title":null}},
"y":{"field":"lo","type":"quantitative","axis":{"orient":"right","values":[0,0.05,0.1,0.15,0.2,0.25,0.3],"labels":false,"tickSize":-7,"title":null}},
"y2":{"field":"hi"}}},
{"data":{"name":"exp"},"transform":[{"filter":"datum.p==='e'"}],
"mark":{"type":"point","filled":true,"size":90,"color":"#f01e1e","opacity":1},
"encoding":{"x":{"field":"E","type":"quantitative","axis":null},"y":{"field":"Y","type":"quantitative","axis":null},
"shape":{"field":"src","type":"nominal","scale":{"domain":["This work"],"range":["circle"]},"legend":{"orient":"none","legendX":25,"legendY":65,"title":null,"symbolSize":90,"symbolStrokeWidth":0,"symbolFillColor":"#f01e1e","clipHeight":16,"labelFont":"DejaVu Serif","labelFontWeight":"bold","labelFontSize":17,"labelColor":"#222","labelOffset":23,"padding":0,"symbolOffset":8.5}}}},
{"data":{"name":"titles"},"transform":[{"filter":"datum.p==='e'"}],
"mark":{"type":"text","align":"left","baseline":"alphabetic","font":"DejaVu Serif","fontWeight":"bold","fontSize":26,"color":"#111"},
"encoding":{"x":{"datum":22.0,"type":"quantitative","axis":null},"y":{"datum":0.2516,"type":"quantitative","axis":null},"text":{"field":"t"}}}
],
"resolve":{"axis":{"x":"independent","y":"independent"}}}
],
"spacing":74.5,
"bounds":"flush",
"resolve":{"scale":{"x":"independent","y":"independent","color":"independent","strokeDash":"independent","shape":"independent"},"legend":{"color":"independent","strokeDash":"independent","shape":"independent"}},
"config":{
"view":{"stroke":"#333","strokeWidth":1.5},
"axis":{"domain":false,"grid":false,"labelFont":"DejaVu Serif","labelFontWeight":"bold","labelFontSize":16,"labelColor":"#222","tickColor":"#333","tickWidth":1.5,"titleFont":"DejaVu Serif","titleFontWeight":"bold","titleColor":"#222","labelFlush":false,"labelOverlap":false},
"axisX":{"titleFontSize":19},
"axisY":{"titleFontSize":16}
}
}
